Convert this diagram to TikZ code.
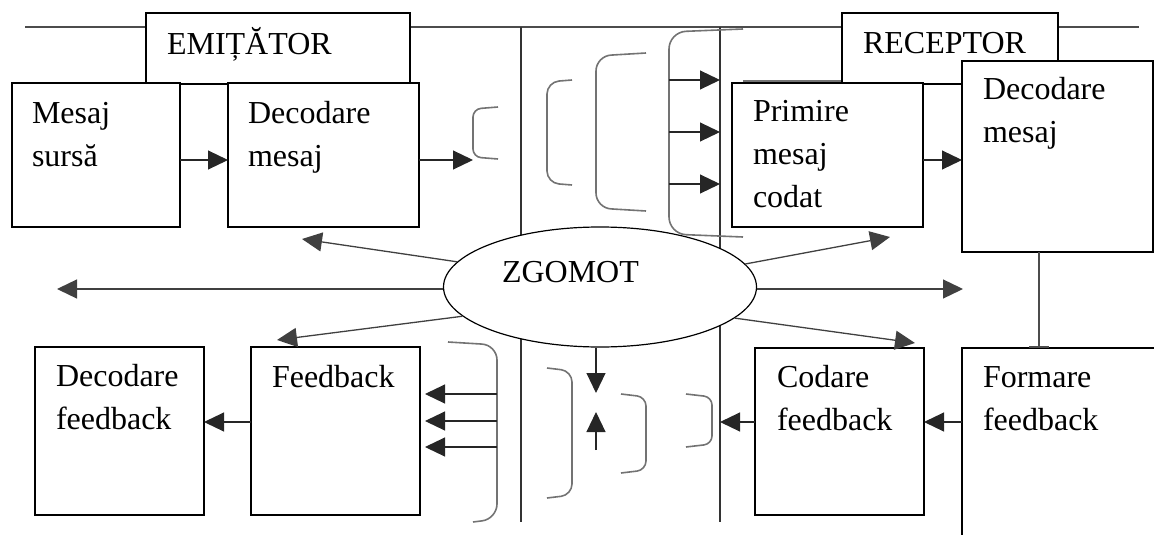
\documentclass[tikz,border=0pt]{standalone}
\usepackage{fontspec}
\setmainfont{Liberation Serif}
\usetikzlibrary{arrows.meta,shapes.geometric}

\begin{document}
\begin{tikzpicture}[x=1pt,y=-1pt,
  box/.style={rectangle, draw=black, line width=1.3pt, fill=white,
    inner sep=0pt, outer sep=0pt, anchor=north west},
  % text blocks are anchored at the baseline of their last line
  txt/.style={font=\fontsize{32}{43}\selectfont, align=left,
    anchor=base west, inner sep=0pt, outer sep=0pt},
  tip/.style={-{Triangle[length=20pt,width=19pt]}},
  conn/.style={draw=black!85, line width=1.1pt, tip},
  nconn/.style={draw=black!75, line width=1.3pt, tip},
  brk/.style={draw=black!55, line width=1.6pt},
  rule/.style={draw=black!70, line width=1.4pt},
  divider/.style={draw=black!80, line width=1.1pt}]

\useasboundingbox (0,0) rectangle (1154,535);
\clip (0,0) rectangle (1154,535);

% frame lines: top rule and the two channel dividers
\coordinate (ruleL) at (25,27);
\coordinate (ruleR) at (1139,27);
\draw[rule] (ruleL) -- (ruleR);
\coordinate (v1top) at (521,27);
\coordinate (v1bot) at (521,522);
\coordinate (v2top) at (720,27);
\coordinate (v2bot) at (720,522);
\draw[divider] (v1top) -- (v1bot);
\draw[divider] (v2top) -- (v2bot);

% header boxes
\node[box, minimum width=264pt, minimum height=71pt] (emit) at (146,13) {};
\node[txt] (emitT) at (167,55) {EMIȚĂTOR};
\coordinate (stubL) at (743,81);
\draw[draw=black!55, line width=1.3pt] (stubL) -- (stubL -| 842,0);
\node[box, minimum width=216pt, minimum height=71pt] (recv) at (842,13) {};
\node[txt] (recvT) at (863,54) {RECEPTOR};

% sender side, top row
\node[box, minimum width=168pt, minimum height=144pt] (src) at (12,83) {};
\node[txt] (srcT) at (32,166) {Mesaj\\sursă};
\node[box, minimum width=191pt, minimum height=144pt] (enc) at (228,83) {};
\node[txt] (encT) at (248,166) {Decodare\\mesaj};

% receiver side, top row
\node[box, minimum width=191pt, minimum height=144pt] (rcv) at (732,83) {};
\node[txt] (rcvT) at (753,207) {Primire\\mesaj\\codat};
\node[box, minimum width=191pt, minimum height=191pt] (dec) at (962,61) {};
\node[txt] (decT) at (983,142) {Decodare\\mesaj};

% bottom row
\node[box, minimum width=169pt, minimum height=168pt] (decfb) at (35,347) {};
\node[txt] (decfbT) at (56,429) {Decodare\\feedback};
\node[box, minimum width=169pt, minimum height=168pt] (fb) at (251,347) {};
\node[txt] (fbT) at (272,387) {Feedback};
\node[box, minimum width=169pt, minimum height=167pt] (codfb) at (755,348) {};
\node[txt] (codfbT) at (777,430) {Codare\\feedback};
\node[box, minimum width=240pt, minimum height=240pt] (formfb) at (962,348) {};
\node[txt] (formfbT) at (983,430) {Formare\\feedback};

% noise source
\node[ellipse, draw=black, line width=1.2pt, fill=white, inner sep=0pt,
  minimum width=313pt, minimum height=120pt] (noise) at (600,287) {};
\node[txt] (noiseT) at (502,282) {ZGOMOT};

% brackets in the channel (message direction)
\draw[brk, rounded corners=8pt]  (498,107) -- (473,109) -- (473,157) -- (498,159);
\draw[brk, rounded corners=12pt] (572,80)  -- (547,82)  -- (547,183) -- (572,185);
\draw[brk, rounded corners=15pt] (646,53)  -- (596,56)  -- (596,208) -- (646,211);
\draw[brk, rounded corners=17pt] (743,29)  -- (669,32)  -- (669,234) -- (743,237);

% brackets in the channel (feedback direction)
\draw[brk, rounded corners=15pt] (448,342) -- (497,345) -- (497,519) -- (473,522);
\draw[brk, rounded corners=11pt] (547,368) -- (572,371) -- (572,495) -- (547,498);
\draw[brk, rounded corners=9pt]  (621,394) -- (646,397) -- (646,470) -- (621,473);
\draw[brk, rounded corners=8pt]  (686,394) -- (712,397) -- (712,444) -- (686,447);

% message flow
\coordinate (r1) at (0,160);
\coordinate (r2) at (0,422);
\draw[conn] (src.east |- r1) -- (enc.west |- r1);
\coordinate (b1tip) at (473,160);
\draw[conn] (enc.east |- r1) -- (b1tip);
\draw[conn] (rcv.east |- r1) -- (dec.west |- r1);
\foreach \y [count=\i] in {80,132,184} {
  \coordinate (inS\i) at (669,\y);
  \draw[conn] (inS\i) -- (inS\i -| v2top);
}

% decoded message feeds the feedback stage
\coordinate (dx) at (1039,0);
\draw[draw=black!70, line width=1.3pt, -{Bar[width=20pt,line width=1.8pt]}]
  (dec.south -| dx) -- (formfb.north -| dx);

% feedback flow
\draw[conn] (formfb.west |- r2) -- (codfb.east |- r2);
\draw[conn] (codfb.west |- r2) -- (v2bot |- r2);
\draw[conn] (fb.west |- r2) -- (decfb.east |- r2);
\foreach \y [count=\i] in {394,421,447} {
  \coordinate (fbS\i) at (497,\y);
  \coordinate (fbE\i) at (425,\y);
  \draw[conn] (fbS\i) -- (fbE\i);
}

% noise spreading in every direction
\coordinate (ulTip) at (302,239);
\coordinate (lTip)  at (57,289);
\coordinate (dlTip) at (277,340);
\coordinate (urTip) at (890,237);
\coordinate (rTip)  at (963,289);
\coordinate (drTip) at (915,343);
\draw[nconn] (noise.170) -- (ulTip);
\draw[nconn] (lTip -| noise.west) -- (lTip);
\draw[nconn] (noise.192) -- (dlTip);
\draw[nconn] (noise.9) -- (urTip);
\draw[nconn] (rTip -| noise.east) -- (rTip);
\draw[nconn] (noise.-13) -- (drTip);

\coordinate (dnTip) at (596,393);
\draw[conn] (dnTip |- noise.south) -- (dnTip);
\coordinate (upS) at (596,450);
\coordinate (upTip) at (596,412);
\draw[conn] (upS) -- (upTip);
\end{tikzpicture}
\end{document}
